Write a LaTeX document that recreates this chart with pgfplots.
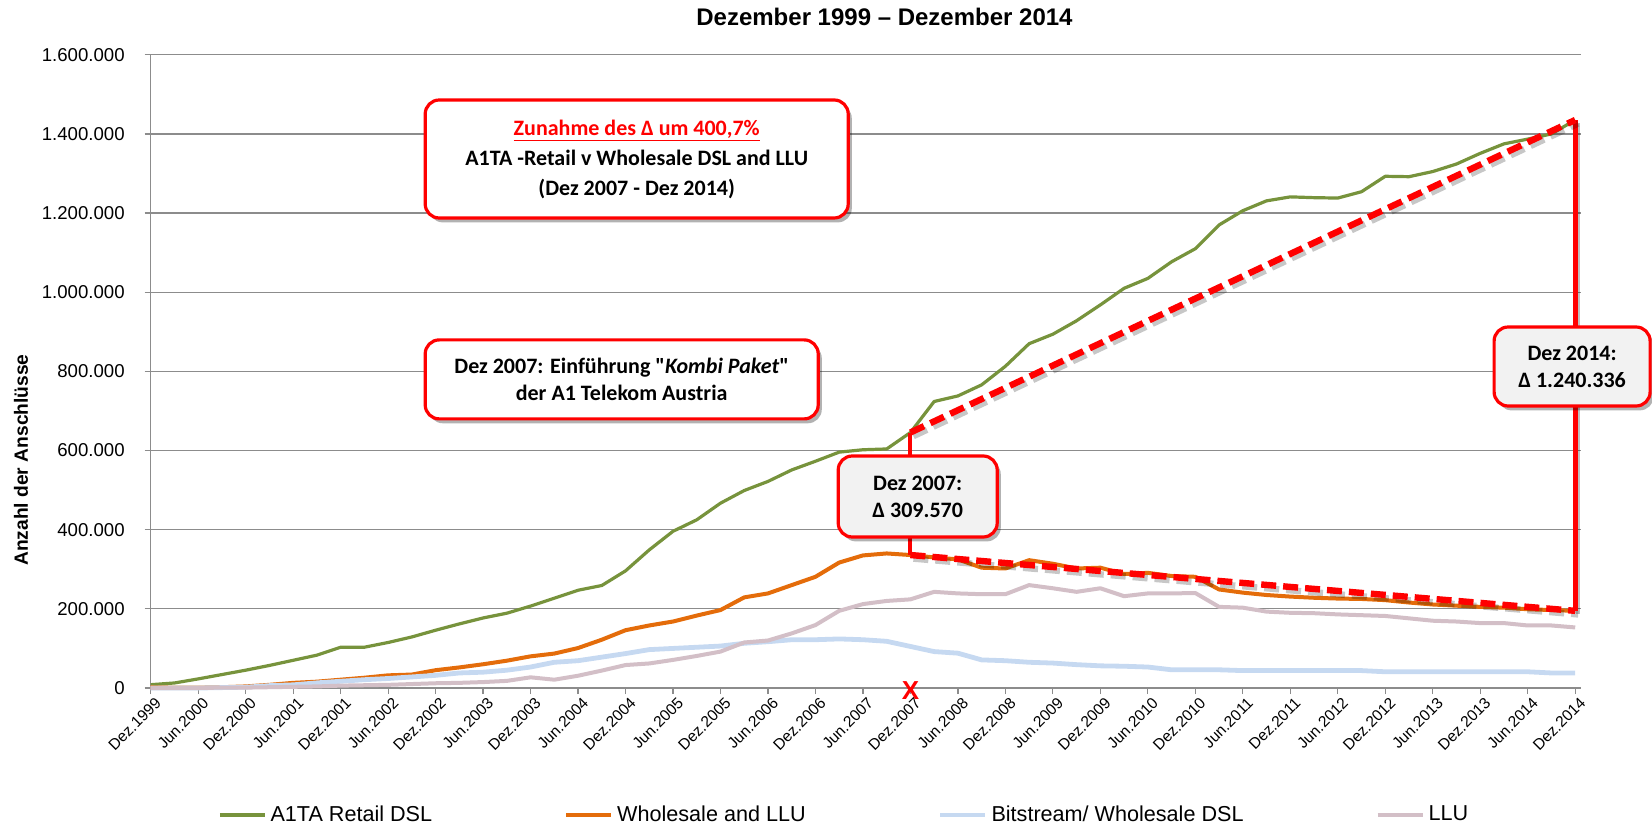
\documentclass[border=0pt]{standalone}
\usepackage{fontspec}
\setmainfont{Liberation Sans}
\newfontfamily\calfont{Carlito}
\usepackage{pgfplots}
\usepackage{pgfplotstable}
\pgfplotsset{compat=1.18}
\usetikzlibrary{shadows}
\definecolor{cGreen}{HTML}{77933C}
\definecolor{cOrange}{HTML}{E46C0A}
\definecolor{cBlue}{HTML}{C6D9F1}
\definecolor{cLLU}{HTML}{D3BFC7}
\definecolor{cGrid}{HTML}{8C8C8C}
\definecolor{cRed}{HTML}{FF0000}
\definecolor{cBox}{HTML}{F2F2F2}

\pgfplotstableread{
x g o b l
0 8400 2000 0 0
1 12700 1000 0 0
2 23000 1000 0 0
3 34000 2000 1000 1000
4 45000 4000 2000 1000
5 57000 8000 6000 2000
6 70000 13000 8000 3000
7 83000 16000 13000 4000
8 103000 21000 17000 6000
9 103000 26000 21000 7000
10 115000 32000 24000 8000
11 129000 34000 28000 10000
12 146000 45000 32000 12000
13 162000 52000 38000 13000
14 177000 60000 40000 15000
15 189000 69000 45000 18000
16 207000 80000 53000 27000
17 227000 87000 65000 21000
18 247000 101000 69000 31000
19 259000 122000 78000 44000
20 296000 146000 87000 58000
21 349000 158000 97000 62000
22 396000 168000 100000 71000
23 425000 183000 103000 81000
24 467000 197000 106000 92000
25 499000 229000 113000 115000
26 522000 239000 117000 120000
27 551000 260000 122000 138000
28 573000 281000 122000 159000
29 596000 317000 124000 195000
30 602000 335000 122000 212000
31 604000 340000 118000 220000
32 645570 336000 105000 224000
33 724000 330000 92000 243000
34 738000 325000 88000 239000
35 766000 304000 71000 237000
36 813000 302000 69000 237000
37 870000 323000 65000 260000
38 894000 314000 63000 252000
39 928000 302000 59000 243000
40 968000 304000 56000 252000
41 1010000 288000 55000 232000
42 1035000 291000 53000 239000
43 1077000 283000 46000 239000
44 1110000 281000 46000 240000
45 1170000 249000 46000 205000
46 1206000 241000 44000 203000
47 1231000 235000 44000 193000
48 1241000 231000 44000 190000
49 1239000 228000 44000 189000
50 1238000 226000 44000 186000
51 1254000 225000 44000 184000
52 1293000 222000 41000 182000
53 1292000 216000 41000 176000
54 1305000 211000 41000 170000
55 1324000 208000 41000 168000
56 1351000 205000 41000 164000
57 1375000 203000 41000 164000
58 1387000 199000 41000 158000
59 1400000 197000 38000 158000
60 1435300 194964 38000 153000
}\data

\tikzset{
  box/.style={draw=cRed, line width=1.6pt, rounded corners=7pt, fill=white, align=center,
    font=\calfont\bfseries\fontsize{11}{13.5}\selectfont,
    drop shadow={shadow xshift=1.8pt, shadow yshift=-2.2pt, opacity=0.3, fill=black}},
}

\begin{document}
\begin{tikzpicture}
\path[use as bounding box] (-75.35pt,-71pt) rectangle (750.65pt,344pt);
\begin{axis}[
  at={(0,0)}, anchor=south west,
  scale only axis, width=715.2pt, height=316.6pt,
  xmin=0, xmax=60.25, ymin=0, ymax=1600000,
  clip=false,
  axis lines=left,
  axis line style={cGrid, line width=0.6pt, -},
  tick style={cGrid, line width=0.6pt},
  major tick length=3pt, tick align=outside,
  ymajorgrids, grid style={cGrid, line width=0.6pt},
  xtick={0,2,...,60},
  xticklabels={Dez.1999,Jun.2000,Dez.2000,Jun.2001,Dez.2001,Jun.2002,Dez.2002,Jun.2003,Dez.2003,Jun.2004,Dez.2004,Jun.2005,Dez.2005,Jun.2006,Dez.2006,Jun.2007,Dez.2007,Jun.2008,Dez.2008,Jun.2009,Dez.2009,Jun.2010,Dez.2010,Jun.2011,Dez.2011,Jun.2012,Dez.2012,Jun.2013,Dez.2013,Jun.2014,Dez.2014},
  x tick label style={rotate=45, anchor=east, font=\fontsize{7.8}{8.5}\selectfont, inner sep=1pt, yshift=-5pt, xshift=1.5pt},
  ytick={0,200000,...,1600000},
  scaled y ticks=false,
  y tick label style={/pgf/number format/fixed, /pgf/number format/precision=0,
    /pgf/number format/1000 sep={.}, /pgf/number format/assume math mode=true,
    font=\fontsize{9.3}{11}\selectfont, xshift=-6.5pt},
  ylabel={Anzahl der Anschlüsse},
  ylabel style={at={(axis description cs:-0.0907,0.36)}, anchor=center, font=\bfseries\fontsize{9.6}{11}\selectfont},
  title={Dezember 1999 -- Dezember 2014},
  title style={at={(axis description cs:0.513,1.0597)}, anchor=center, yshift=-6pt, font=\bfseries\fontsize{12}{14}\selectfont},
  legend columns=4,
  legend cell align=left,
  legend style={at={(0.047,-0.2006)}, anchor=west, draw=none, fill=none, inner sep=0pt,
    font=\fontsize{10.8}{13}\selectfont,
    /tikz/every even column/.append style={column sep=64pt}},
  legend image code/.code={\draw[#1] (0pt,0pt) -- (22.5pt,0pt);},
  line join=round,
]
\addplot[cGreen, line width=1.6pt] table[x=x,y=g]{\data};
\addlegendentry{A1TA Retail DSL}
\addplot[cOrange, line width=2pt] table[x=x,y=o]{\data};
\addlegendentry{Wholesale and LLU}
\addplot[cBlue, line width=2.4pt] table[x=x,y=b]{\data};
\addlegendentry{Bitstream/ Wholesale DSL}
\addplot[cLLU, line width=2pt] table[x=x,y=l]{\data};
\addlegendentry{LLU}

% connector lines
\draw[black, opacity=0.25, line width=2pt, transform canvas={shift={(1.5pt,-1.5pt)}}] (axis cs:60,194964) -- (axis cs:60,1435300);
\draw[cRed, line width=2pt] (axis cs:32,645570) -- (axis cs:32,336000);
\draw[cRed, line width=2.6pt] (axis cs:60,194964) -- (axis cs:60,1435300);
% dashed delta lines with shadow
\draw[black, opacity=0.22, line width=3.2pt, dash pattern=on 7.5pt off 3.5pt, transform canvas={shift={(1.5pt,-1.8pt)}}] (axis cs:32,645570) -- (axis cs:60,1435300);
\draw[black, opacity=0.22, line width=3.2pt, dash pattern=on 7.5pt off 3.5pt, transform canvas={shift={(1.5pt,-1.8pt)}}] (axis cs:32,336000) -- (axis cs:60,194964);
\draw[cRed, line width=3.2pt, dash pattern=on 7.5pt off 3.5pt] (axis cs:32,645570) -- (axis cs:60,1435300);
\draw[cRed, line width=3.2pt, dash pattern=on 7.5pt off 3.5pt] (axis cs:32,336000) -- (axis cs:60,194964);
\node[text=cRed, font=\bfseries\fontsize{13}{13}\selectfont, inner sep=0pt] at (axis cs:32,0) [yshift=-1.5pt] {X};
\end{axis}

\node[box, minimum width=211.5pt, minimum height=59pt] at (243pt,264.5pt)
  {\textcolor{cRed}{\underline{Zunahme des Δ um 400,7\%}}\\[1.5pt] A1TA -Retail v Wholesale DSL and LLU\\[1.5pt] (Dez 2007 - Dez 2014)};
\node[box, minimum width=196.5pt, minimum height=39.5pt] at (235.5pt,154.3pt)
  {Dez 2007: Einführung "\textit{Kombi Paket}"\\ der A1 Telekom Austria};
\node[box, fill=cBox, minimum width=79.5pt, minimum height=40.5pt] at (383.5pt,95.75pt)
  {Dez 2007:\\ Δ 309.570};
\node[box, fill=cBox, minimum width=78pt, minimum height=39.5pt] at (710.7pt,160.75pt)
  {Dez 2014:\\ Δ 1.240.336};
\end{tikzpicture}
\end{document}
